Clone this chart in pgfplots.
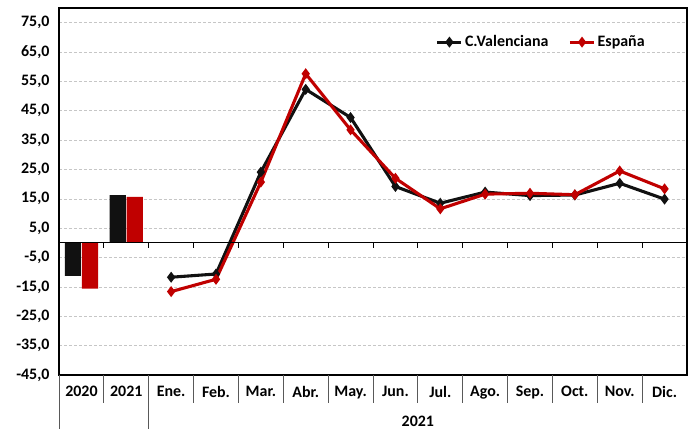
\documentclass[border=0pt]{standalone}
\usepackage{pgfplots}
\pgfplotsset{compat=1.18}
\usepackage{fontspec}
\setmainfont{Carlito}
\definecolor{cv}{HTML}{111111}
\definecolor{es}{HTML}{C00000}
\begin{document}
\begin{tikzpicture}
\begin{axis}[
  scale only axis, width=628bp, height=367bp,
  xmin=-0.5, xmax=13.5, ymin=-45, ymax=80,
  ytick={-45,-35,...,75},
  ymajorgrids, grid style={densely dashed, gray!45, line width=0.6pt},
  xtick={0,...,13},
  xticklabels={2020,2021,Ene.,Feb.,Mar.,Abr.,May.,Jun.,Jul.,Ago.,Sep.,Oct.,Nov.,Dic.},
  tick style={draw=none},
  axis line style={line width=1.4pt},
  font=\fontsize{16}{18}\selectfont\bfseries,
  ticklabel style={font=\fontsize{16}{18}\selectfont\bfseries},
  xticklabel style={yshift=-8bp},
  yticklabel style={xshift=-6bp},
  /pgf/number format/assume math mode=true,
  yticklabel={\pgfmathprintnumber[fixed,fixed zerofill,precision=1,use comma]{\tick}},
  clip=false,
  legend style={at={(0.595,0.907)}, anchor=west, draw=none, fill=none,
    legend columns=2, font=\fontsize{16}{18}\selectfont\bfseries,
    /tikz/every even column/.append style={column sep=18bp}},
  legend image code/.code={\draw[#1] (0cm,0cm) -- (0.85cm,0cm); \draw[#1, mark repeat=1] plot coordinates {(0.425cm,0cm)};},
]
\addplot[ybar, bar width=0.36, bar shift=-0.19, fill=cv, draw=none, forget plot] coordinates {(0,-11.2) (1,16.3)};
\addplot[ybar, bar width=0.36, bar shift=0.19, fill=es, draw=none, forget plot] coordinates {(0,-15.6) (1,15.7)};
\addplot[cv, line width=3.1pt, mark=diamond*, mark size=3pt, mark options={solid}] coordinates {
(2,-11.7) (3,-10.6) (4,24.1) (5,52.3) (6,42.7) (7,19.2) (8,13.5) (9,17.3) (10,16.1) (11,16.3) (12,20.3) (13,14.9)};
\addlegendentry{C.Valenciana}
\addplot[es, line width=3.1pt, mark=diamond*, mark size=3pt, mark options={solid}] coordinates {
(2,-16.6) (3,-12.4) (4,20.7) (5,57.6) (6,38.5) (7,22.0) (8,11.6) (9,16.6) (10,16.9) (11,16.4) (12,24.5) (13,18.4)};
\addlegendentry{España}
\draw[line width=1pt] (axis cs:-0.5,0) -- (axis cs:13.5,0);
\pgfplotsinvokeforeach{0.5,1.5,...,12.5}{
  \draw[line width=0.8pt] (axis cs:#1,0) -- ([yshift=-5bp]axis cs:#1,0);
  \draw[line width=0.8pt, gray!70!black] (axis cs:#1,-45) -- ([yshift=-28bp]axis cs:#1,-45);
}
\draw[line width=0.8pt, gray!70!black] (axis cs:-0.5,-45) -- ([yshift=-54bp]axis cs:-0.5,-45);
\draw[line width=0.8pt, gray!70!black] (axis cs:1.5,-45) -- ([yshift=-54bp]axis cs:1.5,-45);
\node[font=\fontsize{16}{18}\selectfont\bfseries] at (axis cs:7.5,-45) [yshift=-46bp] {2021};
\end{axis}
\path ([shift={(-59bp,-54bp)}]current axis.south west) rectangle ([shift={(4bp,8bp)}]current axis.north east);
\end{tikzpicture}
\end{document}
